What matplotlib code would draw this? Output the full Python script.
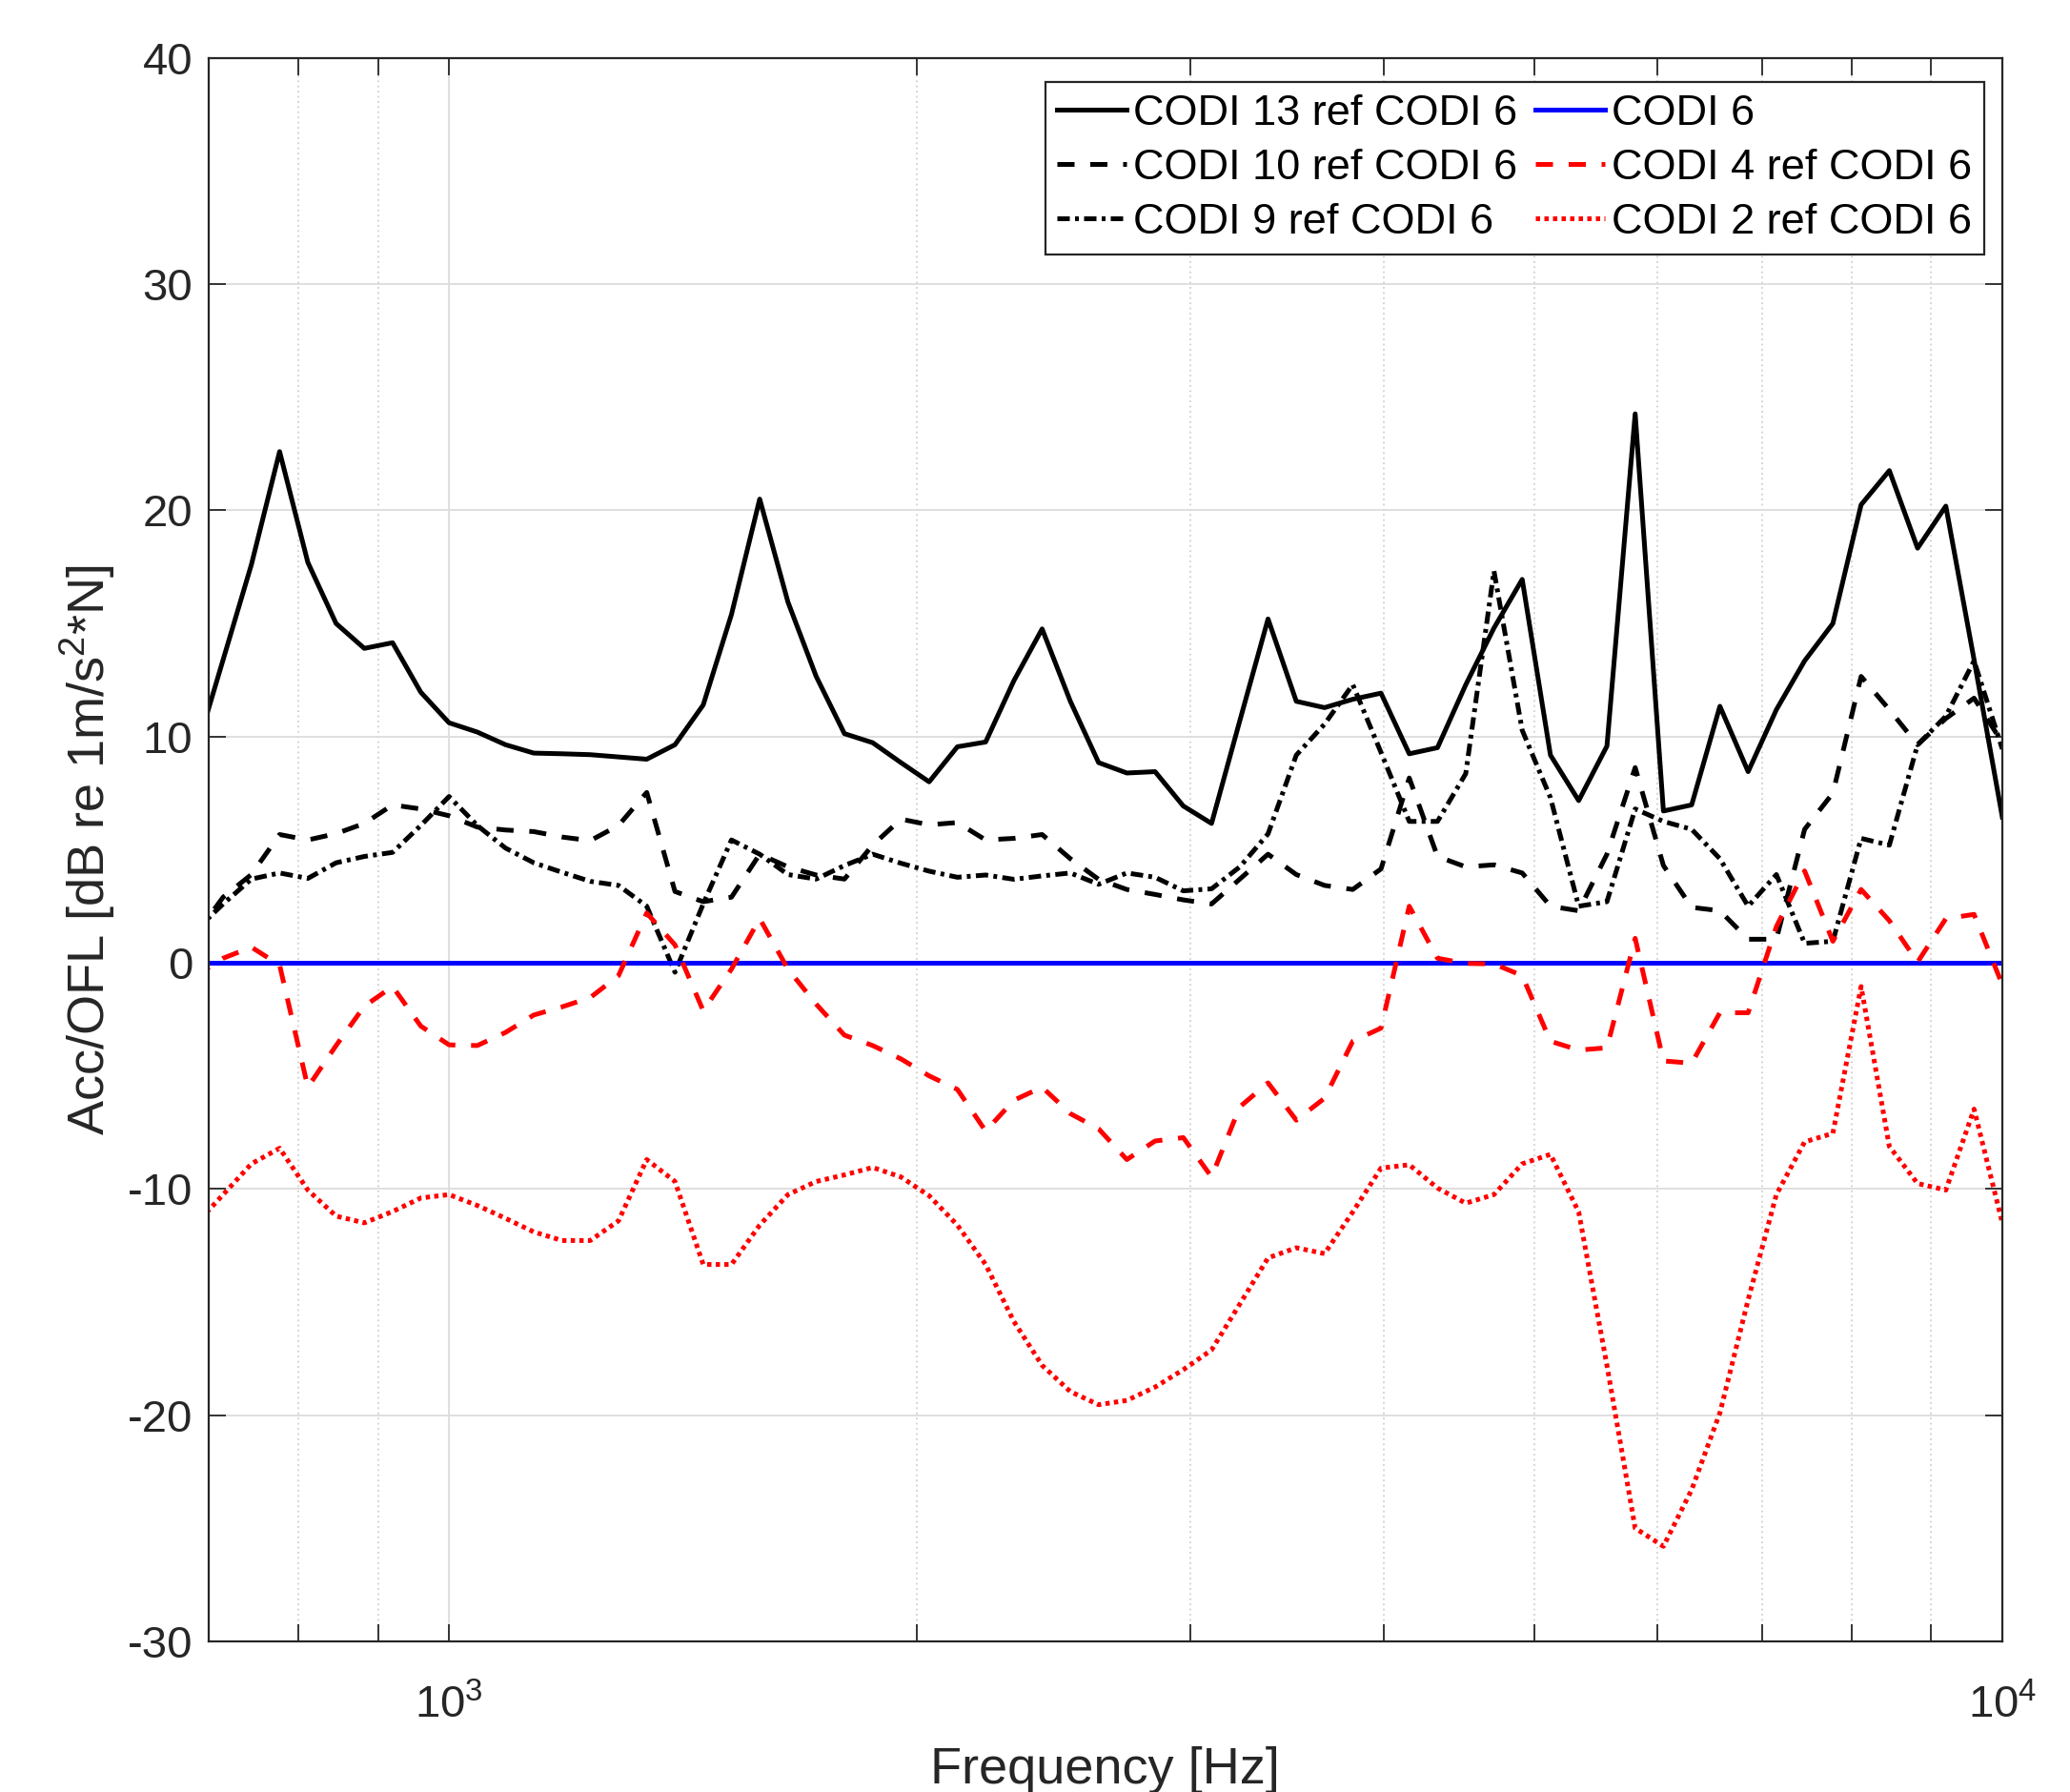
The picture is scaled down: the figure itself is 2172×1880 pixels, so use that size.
import numpy as np
import matplotlib
matplotlib.use("Agg")
import matplotlib.pyplot as plt
from matplotlib.ticker import LogLocator, NullFormatter, MultipleLocator

plt.rcParams['font.family'] = ['Liberation Sans', 'DejaVu Sans']
plt.rcParams['mathtext.fontset'] = 'custom'
plt.rcParams['mathtext.rm'] = 'Liberation Sans'
plt.rcParams['mathtext.it'] = 'Liberation Sans:italic'
plt.rcParams['mathtext.bf'] = 'Liberation Sans:bold'
plt.rcParams['axes.unicode_minus'] = False

# frequency axis: log-spaced analysis bands (55 per decade)
freq = np.logspace(3 - 9 / 55, 4, 65)

codi13 = [9.2, 13.4, 17.6, 22.6, 17.7, 15.0, 13.9, 14.15, 11.96, 10.61,
          10.2, 9.64, 9.27, 9.24, 9.2, 9.1, 9.0, 9.64, 11.4, 15.4,
          20.5, 15.95, 12.66, 10.13, 9.73, 8.85, 8.0, 9.55, 9.76, 12.47,
          14.76, 11.56, 8.85, 8.39, 8.45, 6.93, 6.16, 10.7, 15.2, 11.56,
          11.28, 11.65, 11.92, 9.24, 9.51, 12.29, 14.8, 16.95, 9.18, 7.17,
          9.58, 24.27, 6.71, 6.98, 11.34, 8.45, 11.19, 13.35, 15.0, 20.25,
          21.76, 18.33, 20.19, 13.4, 6.44]

codi10 = [1.2, 2.9, 3.9, 5.67, 5.43, 5.71, 6.16, 6.98, 6.8, 6.5,
          6.0, 5.87, 5.8, 5.56, 5.4, 6.07, 7.53, 3.15, 2.7, 2.9,
          4.8, 4.24, 3.88, 3.7, 5.2, 6.35, 6.1, 6.2, 5.43, 5.5,
          5.67, 4.6, 3.69, 3.24, 3.02, 2.78, 2.6, 3.7, 4.8, 3.9,
          3.42, 3.24, 4.15, 8.17, 4.7, 4.24, 4.33, 3.97, 2.5, 2.3,
          4.8, 8.63, 4.3, 2.45, 2.3, 1.04, 1.04, 5.9, 7.5, 12.66,
          11.19, 9.64, 10.8, 11.7, 9.73]

codi9 = [1.4, 2.6, 3.7, 3.97, 3.73, 4.42, 4.7, 4.88, 6.07, 7.35,
         6.07, 5.07, 4.42, 4.0, 3.6, 3.42, 2.5, -0.42, 2.6, 5.43,
         4.8, 3.9, 3.7, 4.3, 4.8, 4.4, 4.05, 3.78, 3.88, 3.69,
         3.84, 3.97, 3.47, 3.97, 3.78, 3.18, 3.27, 4.24, 5.7, 9.18,
         10.55, 12.3, 9.3, 6.25, 6.25, 8.36, 17.32, 10.28, 7.3, 2.5,
         2.7, 6.8, 6.25, 5.9, 4.6, 2.5, 3.9, 0.86, 0.95, 5.5,
         5.2, 9.64, 10.9, 13.35, 9.45]

codi6 = [0.0] * 65

codi4 = [-0.6, 0.2, 0.69, -0.1, -5.5, -3.66, -1.92, -1.05, -2.8, -3.63,
         -3.66, -3.08, -2.31, -1.95, -1.54, -0.57, 2.2, 0.79, -2.12, -0.28,
         1.95, -0.28, -1.83, -3.2, -3.66, -4.25, -5.0, -5.6, -7.44, -6.08,
         -5.5, -6.67, -7.34, -8.7, -7.88, -7.73, -9.47, -6.37, -5.31, -6.96,
         -5.99, -3.47, -2.89, 2.5, 0.2, -0.03, -0.05, -0.57, -3.47, -3.86,
         -3.76, 1.08, -4.34, -4.44, -2.21, -2.21, 1.6, 4.06, 0.95, 3.24,
         1.86, 0.03, 1.95, 2.14, -0.97]

codi2 = [-11.6, -10.25, -8.89, -8.2, -10.05, -11.2, -11.5, -11.0, -10.4, -10.25,
         -10.73, -11.3, -11.9, -12.28, -12.28, -11.41, -8.7, -9.67, -13.34, -13.34,
         -11.6, -10.25, -9.67, -9.38, -9.05, -9.47, -10.3, -11.6, -13.34, -15.86,
         -17.8, -18.96, -19.54, -19.35, -18.76, -17.99, -17.12, -15.09, -13.05, -12.6,
         -12.86, -11.02, -9.08, -8.93, -9.96, -10.63, -10.25, -8.89, -8.47, -11.02,
         -17.8, -25.0, -25.8, -23.3, -19.9, -14.9, -10.25, -7.92, -7.54, -1.05,
         -8.12, -9.76, -10.05, -6.47, -11.5]

labels = ["CODI 13 ref CODI 6", "CODI 10 ref CODI 6", "CODI 9 ref CODI 6",
          "CODI 6", "CODI 4 ref CODI 6", "CODI 2 ref CODI 6"]

fig = plt.figure(figsize=(21.72, 18.80), dpi=100)
ax = fig.add_axes([0.1007, 0.0841, 0.8666, 0.8835])

LW = 3.6
DASH = (0, (3.6, 3.3))
DASHDOT = (0, (2.6, 1.1, 0.8, 1.1))
DOT = (0, (0.9, 0.9))

ax.plot(freq, codi13, color='black', lw=LW, ls='-', label=labels[0])
ax.plot(freq, codi10, color='black', lw=LW, ls=DASH, label=labels[1])
ax.plot(freq, codi9, color='black', lw=LW, ls=DASHDOT, label=labels[2])
ax.plot(freq, codi6, color='#0000ff', lw=LW, ls='-', label=labels[3])
ax.plot(freq, codi4, color='#ff0000', lw=LW, ls=DASH, label=labels[4])
ax.plot(freq, codi2, color='#ff0000', lw=LW, ls=DOT, label=labels[5])

ax.set_xscale('log')
ax.set_xlim(700, 10000)
ax.set_ylim(-30, 40)
ax.yaxis.set_major_locator(MultipleLocator(10))
ax.xaxis.set_major_locator(LogLocator(base=10, numticks=10))
ax.xaxis.set_minor_locator(LogLocator(base=10, subs=np.arange(2, 10), numticks=20))
ax.xaxis.set_minor_formatter(NullFormatter())

axcol = '#262626'
ax.grid(True, which='major', color='#dcdcdc', lw=1.3, ls='-')
ax.grid(True, which='minor', axis='x', color='#d0d0d0', lw=1.3, ls=(0, (1, 2)))
ax.set_axisbelow(True)

for s in ax.spines.values():
    s.set_color(axcol)
    s.set_linewidth(1.6)

ax.tick_params(which='both', direction='in', top=True, right=True,
               colors=axcol, width=1.3)
ax.tick_params(which='major', length=13, labelsize=34)
ax.tick_params(which='minor', length=13)
ax.tick_params(axis='y', pad=12)
ax.tick_params(axis='x', pad=33)

ax.set_xlabel('Frequency [Hz]', fontsize=39, color=axcol)
ax.xaxis.set_label_coords(0.5, -0.066)
ax.set_ylabel(r'Acc/OFL [dB re 1m/s$^{2}$*N]', fontsize=39, color=axcol)
ax.yaxis.set_label_coords(-0.051, 0.5)

leg = ax.legend(ncol=2, loc='upper right', bbox_to_anchor=(0.9899, 0.9849),
                bbox_transform=ax.transAxes, borderaxespad=0, fontsize=32.5,
                handlelength=1.6, handletextpad=0.17, columnspacing=0.42,
                labelspacing=0.36, borderpad=0.28, frameon=True, fancybox=False,
                framealpha=1.0, edgecolor=axcol)
leg.get_frame().set_linewidth(1.6)

fig.savefig('out.png', dpi=100)
